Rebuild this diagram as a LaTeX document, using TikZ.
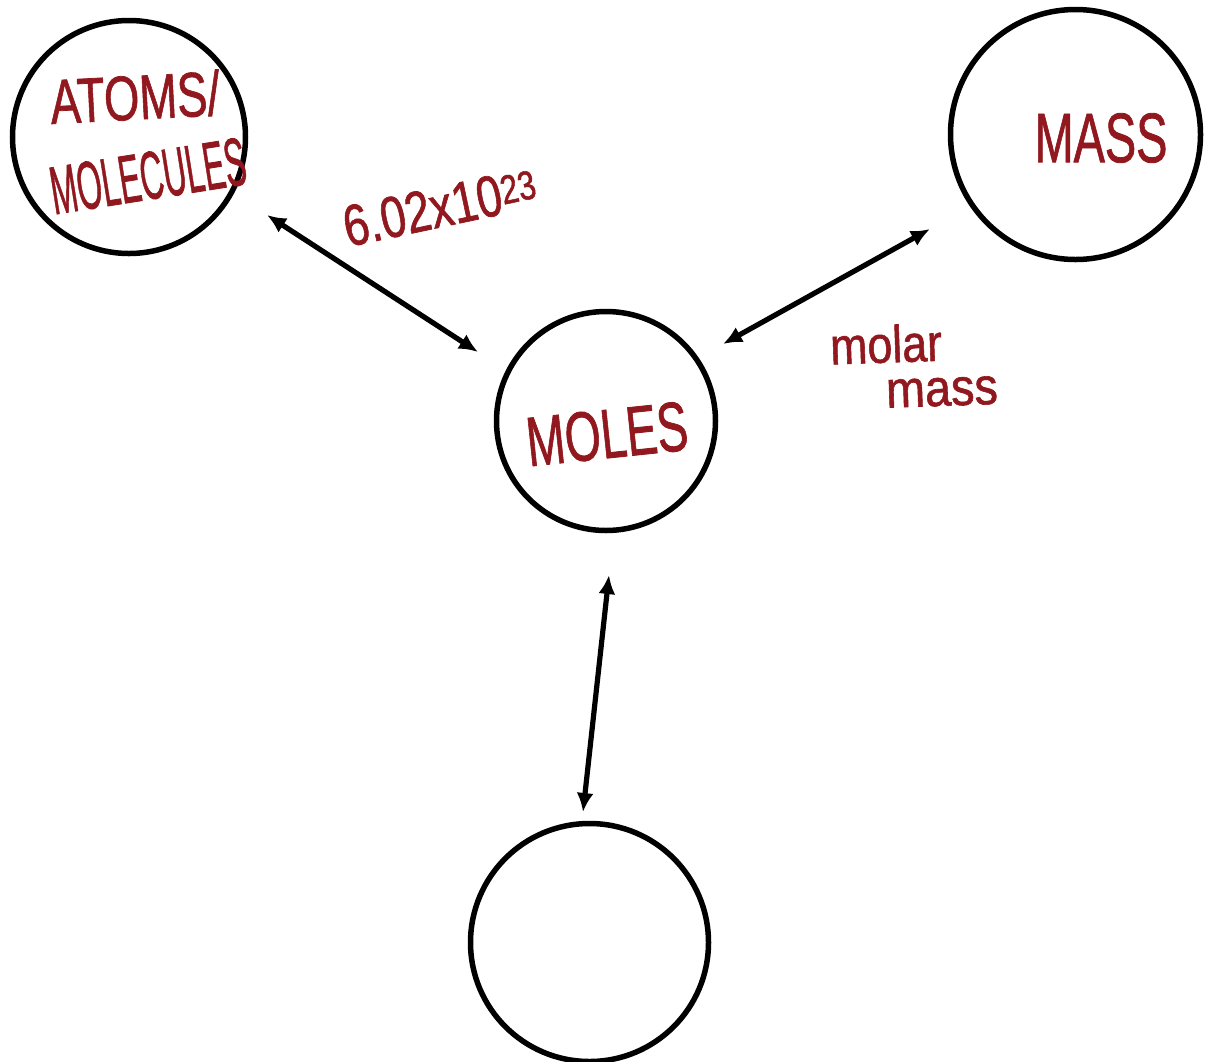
\documentclass[tikz,border=0pt]{standalone}
\usepackage{fontspec}
\setmainfont{Liberation Sans}
\newfontfamily\handfont[FakeBold=1.2]{Liberation Sans}
\usetikzlibrary{arrows.meta}
\definecolor{hand}{RGB}{145,24,30}
\newcommand{\hwt}[2]{\scalebox{#1}[1]{#2}}
\begin{document}
\begin{tikzpicture}[x=1pt,y=-1pt,
  ring/.style={circle,draw=black,line width=5.5pt,inner sep=0pt,minimum size=#1},
  link/.style={draw=black,line width=5.2pt,{Latex[length=19pt,width=17pt]}-{Latex[length=19pt,width=17pt]}},
  hw/.style={text=hand,font=\handfont\fontsize{#1}{#1}\selectfont,inner sep=0pt,anchor=center}]
\useasboundingbox (0,0) rectangle (1205,1061);
\fill[white] (0,0) rectangle (1205,1061);
% circles
\node[ring=233pt] (atoms) at (129,137) {};
\node[ring=250pt] (mass) at (1075.5,134.5) {};
\node[ring=219pt] (moles) at (606,421) {};
\node[ring=238pt] (bottom) at (589.5,942.5) {};
% arrow ends
\coordinate (a1s) at (267,215);
\coordinate (a1e) at (478,352);
\coordinate (a2s) at (930,229);
\coordinate (a2e) at (723,344);
\coordinate (a3s) at (609,575);
\coordinate (a3e) at (583,812);
\draw[link] (a1s) -- (a1e);
\draw[link] (a2s) -- (a2e);
\draw[link] (a3s) -- (a3e);
% labels
\node[hw=63,rotate=3] (tatoms) at (135,97) {\hwt{0.72}{ATOMS/}};
\node[hw=68,rotate=9] (tmolec) at (148,176) {\hwt{0.47}{MOLECULES}};
\node[hw=70,rotate=0] (tmass) at (1101,138) {\hwt{0.67}{MASS}};
\node[hw=70,rotate=6] (tmoles) at (607,434) {\hwt{0.66}{MOLES}};
\node[hw=58,rotate=12] (tavog) at (440,207) {\hwt{0.78}{6.02x10\textsuperscript{23}}};
\node[hw=52,rotate=2] (tmolar) at (886,344) {\hwt{0.86}{molar}};
\node[hw=52,rotate=2] (tmm) at (942,392) {\hwt{0.9}{mass}};
\end{tikzpicture}
\end{document}
